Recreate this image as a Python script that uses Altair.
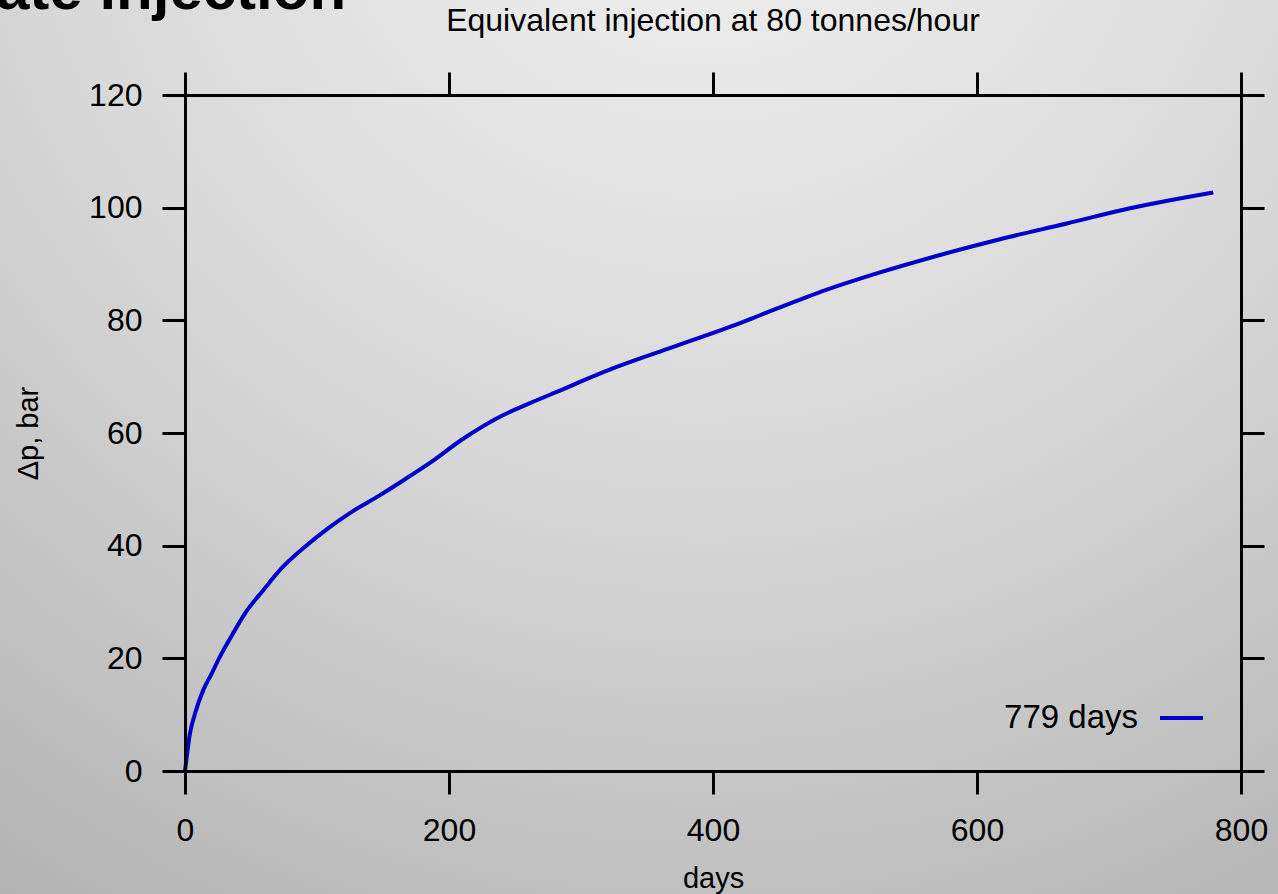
import altair as alt
import pandas as pd

# ---- data ----
days = [0, 3.8, 7.6, 13.9, 20.2, 26.5, 34.1, 45.5, 59.3, 73.2, 90.9, 108.6, 126.3,
        146.5, 164.1, 186.9, 209.6, 241.2, 261.4, 281.6, 324.5, 370, 420.5, 435.6,
        478.5, 526.5, 572, 617.4, 668, 715.9, 779]
dp_bar = [0, 6.7, 10.2, 14.4, 17.3, 20.3, 23.5, 28.0, 32.1, 36.0, 39.8, 43.1, 46.0,
          48.8, 51.4, 54.9, 58.8, 63.2, 65.3, 67.3, 71.5, 75.3, 79.5, 80.9,
          84.8, 88.5, 91.6, 94.4, 97.2, 99.9, 102.7]
x_ticks = [0, 200, 400, 600, 800]
y_ticks = [0, 20, 40, 60, 80, 100, 120]
legend_label = ["779 days"]
chart_title = ["Equivalent injection at 80 tonnes/hour"]
slide_title = ["ate injection"]

df = pd.DataFrame({"days": days, "dp": dp_bar})

W, H = 1056, 676
PL, PT, PR, PB = 185, 95, 37, 123
FONT = "Liberation Sans"
BLUE = "#0000cc"

xscale = alt.Scale(domain=[0, 800], nice=False)
yscale = alt.Scale(domain=[0, 120], nice=False)

axis_base = dict(
    tickSize=23, tickWidth=3, tickColor="black", domainColor="black", domainWidth=3,
    labelFontSize=32, labelColor="black", labelFont=FONT, grid=False, zindex=3,
    labelFlush=False,
)
title_style = dict(titleFont=FONT, titleFontSize=29, titleFontWeight="normal",
                   titleColor="black")

bg = alt.Chart(pd.DataFrame({"a": [0]})).mark_rect(
    color=alt.Gradient(
        gradient="radial",
        stops=[alt.GradientStop(color="#f3f3f3", offset=0),
               alt.GradientStop(color="#d8d8d8", offset=0.5),
               alt.GradientStop(color="#b0b0b0", offset=1)],
        x1=0.55, y1=0.0, r1=0.0, x2=0.55, y2=0.0, r2=1.05,
    )
).encode(
    x=alt.value(-PL), x2=alt.value(W + PR), y=alt.value(-PT), y2=alt.value(H + PB)
)

slide = alt.Chart(pd.DataFrame({"t": slide_title})).mark_text(
    font=FONT, fontSize=60, fontWeight="bold", color="black", align="left",
    baseline="alphabetic"
).encode(x=alt.value(-PL - 4), y=alt.value(-PT + 9), text="t:N")

title = alt.Chart(pd.DataFrame({"t": chart_title})).mark_text(
    font=FONT, fontSize=32, color="black", align="center", baseline="alphabetic"
).encode(x=alt.value(W / 2), y=alt.value(-64), text="t:N")

line = alt.Chart(df).mark_line(color=BLUE, strokeWidth=4, interpolate="monotone").encode(
    x=alt.X("days:Q", scale=xscale,
            axis=alt.Axis(values=x_ticks, title="days", labelPadding=21,
                          titleX=W / 2, titleY=107, titleBaseline="middle",
                          **axis_base, **title_style)),
    y=alt.Y("dp:Q", scale=yscale,
            axis=alt.Axis(values=y_ticks, title="Δp, bar", labelPadding=20,
                          titleAngle=-90, titleX=-157, titleY=H / 2,
                          titleBaseline="middle", titleAlign="center",
                          **axis_base, **title_style)),
)

mirror = alt.Chart(df).mark_line(opacity=0).encode(
    x=alt.X("days:Q", scale=xscale,
            axis=alt.Axis(orient="top", values=x_ticks, labels=False, title=None,
                          **axis_base)),
    y=alt.Y("dp:Q", scale=yscale,
            axis=alt.Axis(orient="right", values=y_ticks, labels=False, title=None,
                          **axis_base)),
)

leg_text = alt.Chart(pd.DataFrame({"t": legend_label})).mark_text(
    font=FONT, fontSize=33, color="black", align="right", baseline="middle"
).encode(x=alt.value(953), y=alt.value(623), text="t:N")

leg_rule = alt.Chart(pd.DataFrame({"t": legend_label})).mark_rule(
    color=BLUE, strokeWidth=4
).encode(x=alt.value(975), x2=alt.value(1018), y=alt.value(623))

chart = alt.layer(bg, slide, title, mirror, line, leg_text, leg_rule).resolve_axis(
    x="independent", y="independent"
).properties(
    width=W, height=H,
    autosize=alt.AutoSizeParams(type="none"),
    padding={"left": PL, "top": PT, "right": PR, "bottom": PB},
).configure_view(stroke=None).configure(background="#c8c8c8")

chart.save("out.html", embed_options={"renderer": "svg", "actions": False})
